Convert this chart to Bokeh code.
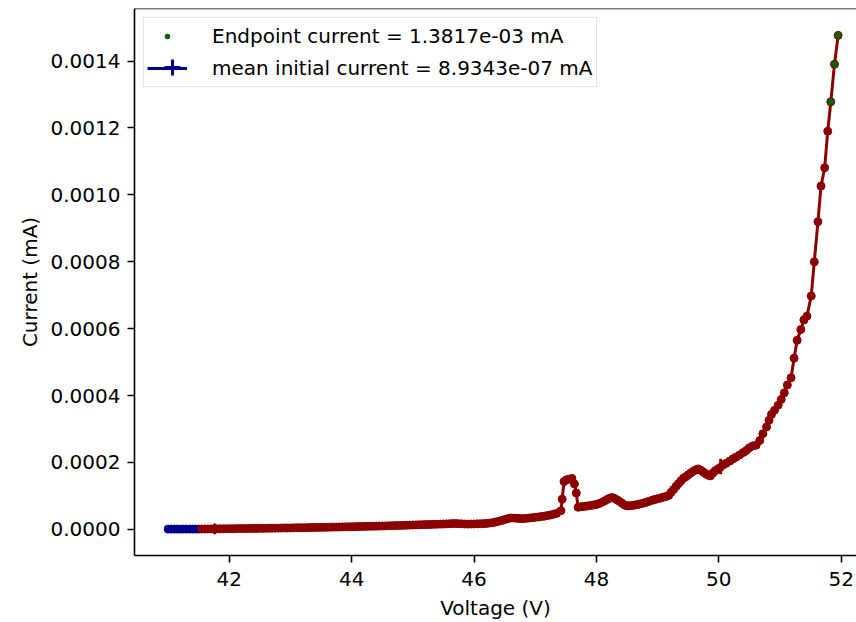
from bokeh.plotting import figure
from bokeh.models import (Range1d, FixedTicker, PrintfTickFormatter, Span, Legend,
                          LegendItem, ColumnDataSource)
from bokeh.embed import file_html
from bokeh.resources import INLINE

# ---- data (Voltage in V, Current in mA) ----
init_v = [41.00, 41.05, 41.10, 41.15, 41.20, 41.25, 41.30, 41.35, 41.40, 41.45, 41.50]
init_i = [8.6e-7, 9.1e-7, 8.8e-7, 9.3e-7, 8.7e-7, 9.0e-7, 8.9e-7, 9.2e-7, 8.8e-7, 8.9e-7, 9.1e-7]

main_v = [41.55, 41.60, 41.65, 41.70, 41.75, 41.80, 41.85, 41.90, 41.95, 42.00,
          42.05, 42.10, 42.15, 42.20, 42.25, 42.30, 42.35, 42.40, 42.45, 42.50,
          42.55, 42.60, 42.65, 42.70, 42.75, 42.80, 42.85, 42.90, 42.95, 43.00,
          43.05, 43.10, 43.15, 43.20, 43.25, 43.30, 43.35, 43.40, 43.45, 43.50,
          43.55, 43.60, 43.65, 43.70, 43.75, 43.80, 43.85, 43.90, 43.95, 44.00,
          44.05, 44.10, 44.15, 44.20, 44.25, 44.30, 44.35, 44.40, 44.45, 44.50,
          44.55, 44.60, 44.65, 44.70, 44.75, 44.80, 44.85, 44.90, 44.95, 45.00,
          45.05, 45.10, 45.15, 45.20, 45.25, 45.30, 45.35, 45.40, 45.45, 45.50,
          45.55, 45.60, 45.65, 45.70, 45.75, 45.80, 45.85, 45.90, 45.95, 46.00,
          46.05, 46.10, 46.15, 46.20, 46.25, 46.30, 46.35, 46.40, 46.45, 46.50,
          46.55, 46.60, 46.65, 46.70, 46.75, 46.80, 46.85, 46.90, 46.95, 47.00,
          47.05, 47.10, 47.15, 47.20, 47.25, 47.30, 47.35, 47.42, 47.44, 47.47,
          47.51, 47.55, 47.60, 47.64, 47.67, 47.70, 47.74, 47.78, 47.82, 47.86,
          47.90, 47.94, 47.98, 48.02, 48.06, 48.10, 48.14, 48.18, 48.22, 48.26,
          48.30, 48.34, 48.38, 48.42, 48.46, 48.50, 48.54, 48.58, 48.62, 48.66,
          48.70, 48.74, 48.78, 48.82, 48.86, 48.90, 48.94, 48.98, 49.02, 49.06,
          49.10, 49.14, 49.18, 49.22, 49.26, 49.30, 49.34, 49.38, 49.42, 49.46,
          49.50, 49.54, 49.58, 49.62, 49.66, 49.70, 49.74, 49.78, 49.82, 49.86,
          49.90, 49.94, 49.98, 50.02, 50.07, 50.12, 50.18, 50.23, 50.28, 50.34,
          50.40, 50.45, 50.50, 50.55, 50.61, 50.67, 50.72, 50.78, 50.82, 50.86,
          50.91, 50.97, 51.02, 51.07, 51.12, 51.18, 51.23, 51.28, 51.34, 51.39,
          51.44, 51.51, 51.56, 51.62, 51.67, 51.73, 51.78]
main_i = [1.1e-6, 1.2e-6, 1.3e-6, 1.4e-6, 1.6e-6, 1.7e-6, 1.7e-6, 1.8e-6, 2.0e-6, 2.1e-6,
          2.1e-6, 2.2e-6, 2.4e-6, 2.5e-6, 2.5e-6, 2.6e-6, 2.8e-6, 2.9e-6, 3.0e-6, 3.1e-6,
          3.2e-6, 3.3e-6, 3.5e-6, 3.7e-6, 3.8e-6, 3.9e-6, 4.1e-6, 4.3e-6, 4.4e-6, 4.5e-6,
          4.7e-6, 4.9e-6, 5.0e-6, 5.1e-6, 5.3e-6, 5.5e-6, 5.6e-6, 5.8e-6, 6.0e-6, 6.1e-6,
          6.2e-6, 6.4e-6, 6.7e-6, 6.9e-6, 7.0e-6, 7.2e-6, 7.5e-6, 7.7e-6, 7.8e-6, 8.0e-6,
          8.3e-6, 8.5e-6, 8.7e-6, 8.9e-6, 9.1e-6, 9.3e-6, 9.5e-6, 9.7e-6, 10.0e-6, 10.2e-6,
          10.4e-6, 10.7e-6, 11.0e-6, 11.3e-6, 11.6e-6, 11.9e-6, 12.2e-6, 12.5e-6, 12.8e-6, 13.1e-6,
          13.5e-6, 13.8e-6, 14.0e-6, 14.3e-6, 14.6e-6, 14.9e-6, 15.2e-6, 15.5e-6, 15.8e-6, 16.1e-6,
          16.5e-6, 16.9e-6, 17.3e-6, 17.6e-6, 17.1e-6, 16.6e-6, 16.2e-6, 15.9e-6, 16.0e-6, 16.3e-6,
          16.6e-6, 16.9e-6, 17.2e-6, 17.7e-6, 18.8e-6, 20.2e-6, 22.0e-6, 24.1e-6, 26.6e-6, 29.3e-6,
          31.9e-6, 34.2e-6, 33.8e-6, 33.1e-6, 32.6e-6, 32.2e-6, 33.0e-6, 34.0e-6, 35.0e-6, 36.1e-6,
          37.2e-6, 38.3e-6, 39.6e-6, 41.2e-6, 43.1e-6, 45.4e-6, 48.0e-6, 56.0e-6, 90.5e-6, 143.0e-6,
          148.2e-6, 150.1e-6, 152.3e-6, 136.0e-6, 108.5e-6, 66.2e-6, 67.5e-6, 68.4e-6, 69.2e-6, 70.1e-6,
          71.3e-6, 72.6e-6, 74.0e-6, 75.8e-6, 78.5e-6, 82.0e-6, 86.0e-6, 90.0e-6, 93.8e-6, 95.2e-6,
          92.0e-6, 88.0e-6, 83.2e-6, 78.0e-6, 73.0e-6, 70.2e-6, 70.6e-6, 71.4e-6, 72.6e-6, 74.0e-6,
          75.6e-6, 77.3e-6, 79.2e-6, 81.5e-6, 83.8e-6, 86.5e-6, 88.9e-6, 90.6e-6, 92.6e-6, 94.6e-6,
          96.5e-6, 98.6e-6, 101.5e-6, 110.8e-6, 119.0e-6, 128.5e-6, 136.8e-6, 145.0e-6, 152.7e-6, 157.5e-6,
          163.0e-6, 168.5e-6, 173.5e-6, 177.8e-6, 180.8e-6, 177.2e-6, 172.3e-6, 167.0e-6, 162.3e-6, 159.9e-6,
          168.0e-6, 175.0e-6, 180.0e-6, 185.0e-6, 192.6e-6, 197.5e-6, 204.3e-6, 210.8e-6, 215.9e-6, 222.7e-6,
          229.8e-6, 236.1e-6, 244.0e-6, 249.3e-6, 251.8e-6, 265.7e-6, 286.1e-6, 306.4e-6, 325.9e-6, 343.7e-6,
          356.2e-6, 371.4e-6, 388.6e-6, 408.3e-6, 431.8e-6, 453.1e-6, 511.7e-6, 565.2e-6, 597.3e-6, 626.0e-6,
          637.4e-6, 697.6e-6, 799.7e-6, 919.8e-6, 1026.1e-6, 1081.1e-6, 1190.1e-6]

end_v = [51.83, 51.89, 51.95]
end_i = [1.2782e-3, 1.3903e-3, 1.4766e-3]

err_v = [41.76, 50.03]
err_i = [1.6e-6, 1.88e-4]
err_half = [1.6e-5, 2.3e-5]

x_ticks = [42, 44, 46, 48, 50, 52]
y_ticks = [0.0, 0.0002, 0.0004, 0.0006, 0.0008, 0.0010, 0.0012, 0.0014]

label_end = "Endpoint current = 1.3817e-03 mA"
label_init = "mean initial current = 8.9343e-07 mA"

RED = "#8B0000"
GREEN = "#006400"
BLUE = "#00008B"
FONT = "DejaVu Sans"

x_lo, x_hi = 40.45, 52.25
y_lo, y_hi = -0.000078, 0.001557

p = figure(width=856, height=622, output_backend="svg", toolbar_location=None,
           x_range=Range1d(x_lo, x_hi), y_range=Range1d(y_lo, y_hi),
           min_border_left=134, min_border_right=0, min_border_top=8,
           min_border_bottom=67, background_fill_color="white",
           border_fill_color="white")
p.outline_line_color = None
p.xgrid.grid_line_color = None
p.ygrid.grid_line_color = None

for ax in (p.xaxis[0], p.yaxis[0]):
    ax.axis_line_width = 1.6
    ax.axis_line_color = "black"
    ax.major_tick_line_width = 1.6
    ax.major_tick_line_color = "black"
    ax.major_tick_out = 7
    ax.major_tick_in = 0
    ax.minor_tick_line_color = None
    ax.major_label_text_font = FONT
    ax.major_label_text_font_size = "20px"
    ax.major_label_text_color = "black"
    ax.axis_label_text_font = FONT
    ax.axis_label_text_font_size = "20px"
    ax.axis_label_text_font_style = "normal"
    ax.axis_label_text_color = "black"
    ax.major_label_standoff = 7

p.xaxis.ticker = FixedTicker(ticks=x_ticks)
p.yaxis.ticker = FixedTicker(ticks=y_ticks)
p.yaxis.formatter = PrintfTickFormatter(format="%.4f")
p.xaxis.axis_label = "Voltage (V)"
p.yaxis.axis_label = "Current (mA)"
p.xaxis.axis_label_standoff = 7
p.yaxis.axis_label_standoff = 6
p.xaxis.major_label_standoff = 9

# top spine
p.add_layout(Span(location=y_hi, dimension="width", line_color="black", line_width=1.6))

# blue initial points
p.line(init_v, init_i, line_color=BLUE, line_width=3)
p.scatter(init_v, init_i, size=8, fill_color=BLUE, line_color=BLUE)

# red curve (includes endpoints)
all_v = main_v + end_v
all_i = main_i + end_i
p.line(all_v, all_i, line_color=RED, line_width=3)
p.scatter(all_v, all_i, size=8, fill_color=RED, line_color=RED)

err_src = ColumnDataSource(dict(x=err_v,
                                lo=[c - h for c, h in zip(err_i, err_half)],
                                hi=[c + h for c, h in zip(err_i, err_half)]))
p.segment(x0="x", y0="lo", x1="x", y1="hi", source=err_src, line_color=RED, line_width=3)

# green endpoints
p.scatter(end_v, end_i, size=6, fill_color=GREEN, line_color=GREEN)

# legend proxies (single NaN point: nothing drawn in the plot area)
nan = float("nan")
def proxy_src():
    return ColumnDataSource(dict(x=[nan], y=[nan]))

g_leg = p.scatter(x="x", y="y", source=proxy_src(), marker="circle", size=5,
                  line_color=GREEN, fill_color=GREEN)
b_line = p.line(x="x", y="y", source=proxy_src(), line_color=BLUE, line_width=3)
b_bar = p.scatter(x="x", y="y", source=proxy_src(), marker="cross", size=16,
                  line_color=BLUE, line_width=3)

legend_main = Legend(items=[LegendItem(label=label_end, renderers=[g_leg]),
                            LegendItem(label=label_init, renderers=[b_line])],
                     location="top_left", margin=9, padding=3, spacing=2,
                     glyph_width=40, glyph_height=12, label_height=30, label_standoff=25,
                     label_text_font=FONT, label_text_font_size="20px",
                     label_text_color="black",
                     border_line_color="#cccccc", border_line_width=1.2,
                     background_fill_color="white", background_fill_alpha=0.8)
p.add_layout(legend_main)

# overlay legend that only draws the error-bar tick of the second handle
legend_bar = Legend(items=[LegendItem(label=" ", renderers=[b_bar])],
                    location=(18, 463), margin=0, padding=0, spacing=0,
                    glyph_width=40, glyph_height=50, label_height=50, label_standoff=0,
                    label_text_alpha=0, label_text_font_size="2px",
                    border_line_color=None, background_fill_alpha=0)
p.add_layout(legend_bar)

open("out.html", "w").write(file_html(p, INLINE))
